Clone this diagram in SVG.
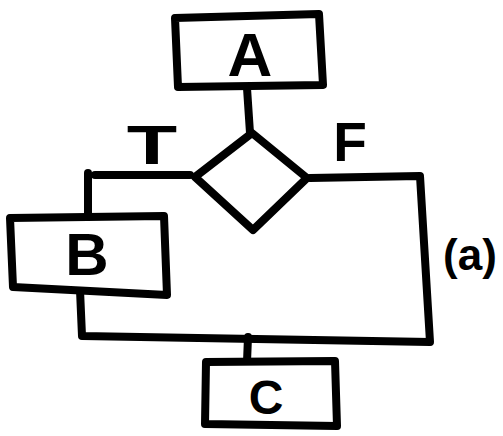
<svg xmlns="http://www.w3.org/2000/svg" width="503" height="436" viewBox="0 0 503 436">
<style>
.s{fill:none;stroke:#000;stroke-width:8;stroke-linecap:round;stroke-linejoin:round}
.b{fill:#fff;stroke:#000;stroke-width:8;stroke-linejoin:round}
.t{font-family:"Liberation Sans",Arial,sans-serif;font-weight:bold;fill:#000;text-anchor:middle}
</style>
<rect width="503" height="436" fill="#fff"/>
<g id="connectors">
<path class="s" d="M247,88 L250,133"/>
<path class="s" d="M95,175 L190,175"/>
<path class="s" d="M88,173 L88,215"/>
<path class="s" d="M310,178 L420,176 L430,342 L82,336 L80,290"/>
<path class="s" d="M248,337 L247,362"/>
</g>
<g id="nodeA">
<path class="b" d="M175,18 L319,14 L323,85 L178,87 Z"/>
<text class="t" x="250" y="76" font-size="62">A</text>
</g>
<g id="decision">
<path class="b" d="M252,133 L307,178 L253,230 L195,177 Z"/>
</g>
<g id="labelT">
<text class="t" font-size="55" transform="translate(152,164) scale(1.5,1)">T</text>
</g>
<g id="labelF">
<text class="t" x="350" y="161" font-size="55">F</text>
</g>
<g id="nodeB">
<path class="b" d="M10,218 L164,216 L167,295 L13,287 Z"/>
<text class="t" x="87" y="275" font-size="60">B</text>
</g>
<g id="nodeC">
<path class="b" d="M206,362 L335,361 L337,426 L205,424 Z"/>
<text class="t" x="266" y="414" font-size="48">C</text>
</g>
<g id="labelA">
<text class="t" x="470" y="270" font-size="44">(a)</text>
</g>
</svg>
